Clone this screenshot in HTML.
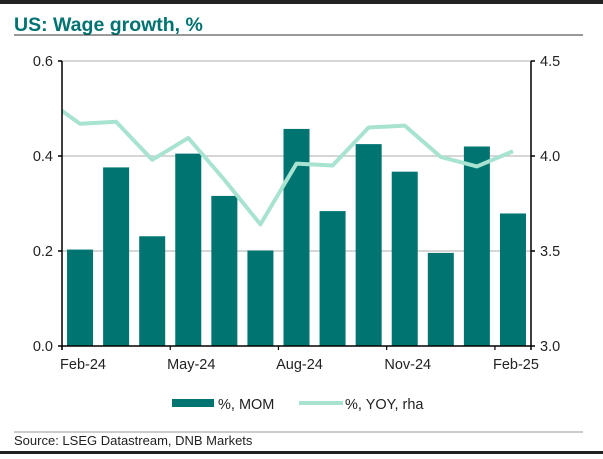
<!DOCTYPE html>
<html><head><meta charset="utf-8"><style>
body{margin:0;width:603px;height:454px;overflow:hidden;background:#fff;font-family:"Liberation Sans",sans-serif}
</style></head><body>
<svg width="603" height="454">
<rect x="0" y="0" width="603" height="4" fill="#222"/>
<rect x="0" y="451" width="603" height="3" fill="#222"/>
<text x="14" y="31" font-size="19.5" font-weight="bold" fill="#007272">US: Wage growth, %</text>
<line x1="14" y1="35" x2="583" y2="35" stroke="#333" stroke-width="1"/>
<g id="grid"></g><g id="bars"></g><g id="line"></g><g id="axes"></g>
<g>
<rect x="172" y="399" width="42" height="8" fill="#007470"/>
<text x="218" y="409" font-size="14.5" fill="#222">%, MOM</text>
<line x1="299" y1="403" x2="343" y2="403" stroke="#a8e3d2" stroke-width="4"/>
<text x="345" y="409" font-size="14.5" fill="#222">%, YOY, rha</text>
</g>
<line x1="14" y1="432" x2="583" y2="432" stroke="#999" stroke-width="1"/>
<text x="14" y="445" font-size="13" fill="#222">Source: LSEG Datastream, DNB Markets</text>
</svg>
<script>
const months=["Feb-24","Mar-24","Apr-24","May-24","Jun-24","Jul-24","Aug-24","Sep-24","Oct-24","Nov-24","Dec-24","Jan-25","Feb-25"];
const mom=[0.203,0.376,0.231,0.405,0.316,0.201,0.457,0.284,0.425,0.367,0.196,0.420,0.279];
const yoyPrev=4.305;
const yoy=[4.17,4.18,3.98,4.095,3.875,3.64,3.96,3.95,4.15,4.16,3.995,3.945,4.025];
const leftTicks=[0.0,0.2,0.4,0.6];
const rightTicks=[3.0,3.5,4.0,4.5];
const xLabelIdx=[0,3,6,9,12];
const NS="http://www.w3.org/2000/svg";
const X0=62,X1=531,Y0=346,Y1=61,slot=(X1-X0)/months.length;
const xc=i=>X0+slot*(i+0.5);
const yl=v=>Y0-(v-0)/0.6*(Y0-Y1);
const yr=v=>Y0-(v-3)/1.5*(Y0-Y1);
function mk(t,a,p){const e=document.createElementNS(NS,t);for(const k in a)e.setAttribute(k,a[k]);p.appendChild(e);return e;}
const grid=document.getElementById('grid'),bars=document.getElementById('bars'),line=document.getElementById('line'),axes=document.getElementById('axes');
leftTicks.forEach((v,i)=>{
 if(v>0){const g=mk('line',{x1:X0,x2:X1,y1:yl(v),y2:yl(v),stroke:'#c8c8c8','stroke-width':1.5},grid);
 
 }
 const t=mk('text',{x:X0-9,y:yl(v)+5,'font-size':14.5,'text-anchor':'end',fill:'#222'},axes);t.textContent=v.toFixed(1);
 
 
 const tk=mk('line',{x1:X0-4,x2:X0,y1:yl(v),y2:yl(v),stroke:'#000','stroke-width':1.5},axes);
 
 
});
rightTicks.forEach(v=>{
 const t=mk('text',{x:X1+9,y:yr(v)+5,'font-size':14.5,fill:'#222'},axes);t.textContent=v.toFixed(1);
 
 
 const tk=mk('line',{x1:X1,x2:X1+4,y1:yr(v),y2:yr(v),stroke:'#000','stroke-width':1.5},axes);
 
 
});
mom.forEach((v,i)=>{
 const r=mk('rect',{x:xc(i)-13,y:yl(v),width:26,height:Y0-yl(v),fill:'#007470'},bars);
 
 
});
const cp=mk('clipPath',{id:'pc'},line);mk('rect',{x:X0,y:Y1-10,width:X1-X0,height:Y0-Y1+20},cp);
let d='M'+(xc(0)-slot)+','+yr(yoyPrev);
yoy.forEach((v,i)=>{d+=' L'+xc(i)+','+yr(v);});
const p=mk('path',{d:d,fill:'none',stroke:'#a8e3d2','stroke-width':4,'stroke-linejoin':'round','clip-path':'url(#pc)'},line);


const la=mk('line',{x1:X0,x2:X0,y1:Y1,y2:Y0+4,stroke:'#000','stroke-width':1.5},axes);


const ra=mk('line',{x1:X1,x2:X1,y1:Y1,y2:Y0+4,stroke:'#000','stroke-width':1.5},axes);


const xa=mk('line',{x1:X0,x2:X1,y1:Y0,y2:Y0,stroke:'#000','stroke-width':1.5},axes);


xLabelIdx.forEach(i=>{
 const tk=mk('line',{x1:xc(i)-slot/2,x2:xc(i)-slot/2,y1:Y0,y2:Y0+4,stroke:'#000','stroke-width':1.2},axes);
 
 
 const t=mk('text',{x:xc(i)+3,y:Y0+23,'font-size':14.5,'text-anchor':'middle',fill:'#222'},axes);t.textContent=months[i];
 
 
});
</script>
</body></html>
